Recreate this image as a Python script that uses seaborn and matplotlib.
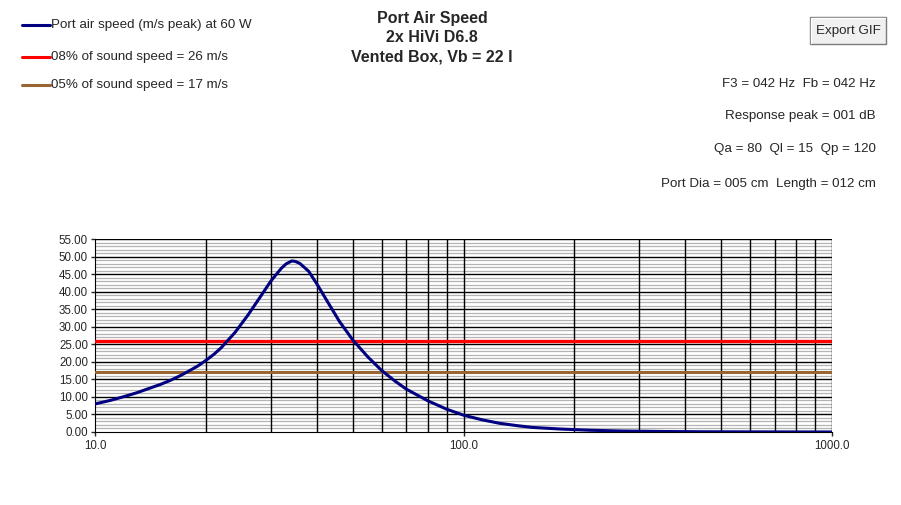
import matplotlib
matplotlib.use("Agg")
import matplotlib.pyplot as plt
import matplotlib.ticker as mticker
from matplotlib.patches import Rectangle
import numpy as np
import pandas as pd
import seaborn as sns

# data
freq_hz = [10, 11, 12, 13, 14, 15, 16, 17, 18, 19, 20, 21, 22, 24, 26, 28, 30, 32, 33,
           34.2, 35, 36, 38, 40, 43.4, 46, 50, 55, 60, 65, 70, 80, 90, 100, 112, 125,
           140, 154, 183, 220, 270, 350, 450, 600, 800, 1000]
air_speed = [8.0, 9.0, 10.1, 11.2, 12.4, 13.5, 14.7, 16.0, 17.4, 18.8, 20.4, 22.1, 24.0,
             28.4, 33.3, 38.3, 43.0, 46.6, 47.9, 48.75, 48.6, 48.0, 45.8, 42.2, 36.0,
             31.6, 26.3, 21.4, 17.5, 14.6, 12.2, 8.9, 6.5, 4.8, 3.5, 2.5, 1.8, 1.3,
             0.85, 0.5, 0.28, 0.14, 0.07, 0.04, 0.02, 0.01]
limit_8pct = 26
limit_5pct = 17
legend_labels = ["Port air speed (m/s peak) at 60 W",
                 "08% of sound speed = 26 m/s",
                 "05% of sound speed = 17 m/s"]
title_lines = ["Port Air Speed", "2x HiVi D6.8", "Vented Box, Vb = 22 l"]
info_lines = ["F3 = 042 Hz  Fb = 042 Hz",
              "Response peak = 001 dB",
              "Qa = 80  Ql = 15  Qp = 120",
              "Port Dia = 005 cm  Length = 012 cm"]

sns.set_style("white")
plt.rcParams['font.family'] = ['Liberation Sans', 'DejaVu Sans']

df = pd.DataFrame({'freq': freq_hz, 'speed': air_speed})

fig = plt.figure(figsize=(9.01, 5.05), dpi=100)
ax = fig.add_axes([95/901, 1 - 432/505, (832 - 95)/901, (432 - 239)/505])

ax.set_xscale('log')
ax.set_xlim(10, 1000)
ax.set_ylim(0, 55)

ax.yaxis.set_major_locator(mticker.MultipleLocator(5))
ax.yaxis.set_minor_locator(mticker.MultipleLocator(1))
ax.xaxis.set_major_locator(mticker.LogLocator(base=10))
ax.xaxis.set_minor_locator(mticker.LogLocator(base=10, subs=np.arange(2, 10)))

# gray minor horizontals underneath, then black verticals and major horizontals on top
ax.grid(which='minor', axis='y', color='#b4b4b4', linewidth=0.9)
ax.set_axisbelow(True)
xgrid = [v for v in list(ax.get_xticks(minor=True)) + list(ax.get_xticks())
         if 10 < v <= 1000]
ygrid = [v for v in ax.get_yticks() if 0 < v <= 55]
ax.vlines(xgrid, 0, 55, colors='black', linewidth=1.0, zorder=1)
ax.hlines(ygrid, 10, 1000, colors='black', linewidth=1.0, zorder=1)

ax.yaxis.set_major_formatter(mticker.FormatStrFormatter('%.2f'))
ax.xaxis.set_major_formatter(mticker.FuncFormatter(lambda v, p: f"{v:.1f}"))
ax.xaxis.set_minor_formatter(mticker.NullFormatter())
ax.tick_params(axis='y', which='major', length=3, width=1, labelsize=8.3, pad=2, left=True)
ax.tick_params(axis='y', which='minor', length=0)
ax.tick_params(axis='x', which='major', length=3, width=1, labelsize=8.3, pad=3, bottom=True)
ax.tick_params(axis='x', which='minor', length=0)

for s in ['top', 'right']:
    ax.spines[s].set_visible(False)
ax.spines['left'].set_color('black')
ax.spines['bottom'].set_color('black')

sns.lineplot(data=df, x='freq', y='speed', ax=ax, color='#000080', linewidth=2.2,
             legend=False, zorder=4, solid_joinstyle='round', solid_capstyle='round')
ax.axhline(limit_8pct, color='#ff0000', linewidth=2.4, zorder=3)
ax.axhline(limit_5pct, color='#996633', linewidth=2.2, zorder=3)
ax.set_xlabel('')
ax.set_ylabel('')

# legend drawn in figure pixels
leg_colors = ['#000080', '#ff0000', '#996633']
leg_y = [25, 57, 85]
for lab, col, yy in zip(legend_labels, leg_colors, leg_y):
    fig.lines.append(plt.Line2D([22/901, 50/901], [1 - yy/505, 1 - yy/505],
                                transform=fig.transFigure, color=col, linewidth=2.2))
    fig.text(51/901, 1 - yy/505, lab, fontsize=9.6, va='center', ha='left')

# title
for i, t in enumerate(title_lines):
    fig.text(432/901, 1 - (19 + 19*i)/505, t, fontsize=11.5, fontweight='bold',
             ha='center', va='center')

# info text
info_y = [84, 116, 149, 184]
for t, yy in zip(info_lines, info_y):
    fig.text(876/901, 1 - yy/505, t, fontsize=9.6, ha='right', va='center')

# export button
fig.patches.append(Rectangle((810/901, 1 - 44/505), 76/901, 27/505,
                             transform=fig.transFigure, facecolor='#f0f0f0',
                             edgecolor='#7a7a7a', linewidth=1))
fig.lines.append(plt.Line2D([811/901, 811/901, 885/901], [1 - 43/505, 1 - 18/505, 1 - 18/505],
                            transform=fig.transFigure, color='white', linewidth=1))
fig.text(848/901, 1 - 31/505, "Export GIF", fontsize=9.6, ha='center', va='center')

fig.savefig('out.png', dpi=100)
